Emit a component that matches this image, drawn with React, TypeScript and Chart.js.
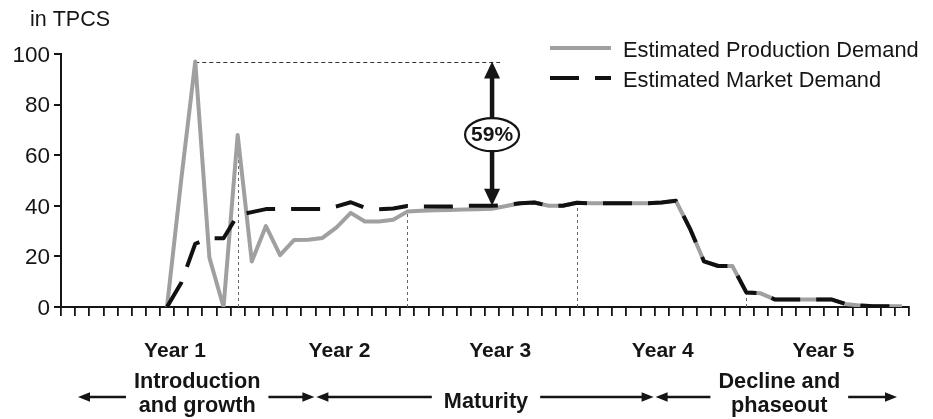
import React, { useEffect, useRef } from 'react';
import { Chart, registerables } from 'chart.js';

Chart.register(...registerables);

// ---------- data ----------
const months: string[] = Array.from({ length: 60 }, (_, i) => String(i + 1));

const productionDemand: (number | null)[] = [
  null, null, null, null, null, null, null,
  0, 50, 97, 19.5, 0, 68, 18, 32, 20.5, 26.5, 26.6, 27.3, 31.5, 37.2,
  33.8, 33.8, 34.5, 37.7, 38, 38.2, 38.3, 38.5, 38.6, 38.8,
  39.9, 41, 41.3, 40, 40, 41.2, 41, 41, 41, 41, 41, 41.3, 42,
  31, 18, 16.2, 16.2, 5.7, 5.4, 3, 3, 3, 3, 3, 1.2, 0.6, 0.3, 0.3, 0.3,
];

const marketDemand: (number | null)[] = [
  null, null, null, null, null, null, null,
  0, 9.5, 25, 27.2, 27.2, 36.3, 37.5, 38.7, 38.7, 38.7, 38.7, 38.7, 39.8, 41.4,
  39.2, 38.6, 38.9, 39.9, 39.7, 39.7, 39.7, 40, 40, 40,
  40.3, 41, 41.3, 40, 40, 41.2, 41, 41, 41, 41, 41, 41.3, 42,
  31, 18, 16.2, 16.2, 5.7, 5.4, 3, 3, 3, 3, 3, 1.2, 0.6, 0.3, 0.3, 0.3,
];

const seriesLabels = ['Estimated Production Demand', 'Estimated Market Demand'];
const yTickValues = [0, 20, 40, 60, 80, 100];
const yUnitLabel = 'in TPCS';
const yearLabels = ['Year 1', 'Year 2', 'Year 3', 'Year 4', 'Year 5'];
const yearLabelMonths = [8.07, 19.71, 31.07, 42.58, 53.95];
const yearMarkerIndex = [12, 24, 36, 48];
const phaseLabels = [['Introduction', 'and growth'], ['Maturity'], ['Decline and', 'phaseout']];
const phaseBoundMonths = [0, 18, 42, 60];
const gapIndex = 30;

// ---------- styling ----------
const FONT = '"Liberation Sans", Arial, Helvetica, sans-serif';
const INK = '#151515';
const GREY = '#a0a0a0';

function arrowHead(ctx: CanvasRenderingContext2D, tx: number, ty: number, dx: number, dy: number, len: number, half: number) {
  const bx = tx - dx * len;
  const by = ty - dy * len;
  const nx = -dy;
  const ny = dx;
  ctx.beginPath();
  ctx.moveTo(tx, ty);
  ctx.lineTo(bx + nx * half, by + ny * half);
  ctx.lineTo(bx - nx * half, by - ny * half);
  ctx.closePath();
  ctx.fill();
}

const annotationPlugin = {
  id: 'tpcsAnnotations',
  beforeDatasetsDraw(chart: any) {
    const { ctx, scales } = chart;
    const x = scales.x;
    const y = scales.y;
    const prod = chart.data.datasets[0].data as (number | null)[];
    ctx.save();
    ctx.strokeStyle = '#666';
    ctx.lineWidth = 1;
    ctx.setLineDash([3, 3]);
    for (const m of yearMarkerIndex) {
      const px = Math.round(x.getPixelForValue(m)) + 0.5;
      ctx.beginPath();
      ctx.moveTo(px, y.getPixelForValue(0));
      ctx.lineTo(px, y.getPixelForValue(prod[m] ?? 0));
      ctx.stroke();
    }
    const vals = prod.filter((v) => v != null) as number[];
    const peak = Math.max(...vals);
    const peakIdx = prod.indexOf(peak);
    const py = Math.round(y.getPixelForValue(peak)) + 0.5;
    ctx.strokeStyle = '#333';
    ctx.setLineDash([4, 3]);
    ctx.beginPath();
    ctx.moveTo(x.getPixelForValue(peakIdx), py);
    ctx.lineTo(x.getPixelForValue(gapIndex) + 8, py);
    ctx.stroke();
    ctx.restore();
  },
  afterDatasetsDraw(chart: any) {
    const { ctx, scales } = chart;
    const x = scales.x;
    const y = scales.y;
    const ds = chart.data.datasets;
    const prod = ds[0].data as (number | null)[];
    const market = ds[1].data as (number | null)[];
    ctx.save();
    ctx.setLineDash([]);

    // --- double arrow with percentage ---
    const vals = prod.filter((v) => v != null) as number[];
    const peak = Math.max(...vals);
    const low = market[gapIndex] as number;
    const ax = x.getPixelForValue(gapIndex);
    const yTop = y.getPixelForValue(peak);
    const yBot = y.getPixelForValue(low);
    const cy = (yTop + yBot) / 2 + 1;
    const rx = 27;
    const ry = 16.5;
    const headLen = 17;
    const headHalf = 8;
    ctx.fillStyle = INK;
    ctx.strokeStyle = INK;
    ctx.lineWidth = 4.5;
    ctx.beginPath();
    ctx.moveTo(ax, yTop + headLen - 1);
    ctx.lineTo(ax, cy - ry);
    ctx.moveTo(ax, cy + ry);
    ctx.lineTo(ax, yBot - headLen + 1);
    ctx.stroke();
    arrowHead(ctx, ax, yTop, 0, -1, headLen, headHalf);
    arrowHead(ctx, ax, yBot, 0, 1, headLen, headHalf);
    ctx.lineWidth = 2.2;
    ctx.beginPath();
    ctx.ellipse(ax, cy, rx, ry, 0, 0, Math.PI * 2);
    ctx.fillStyle = '#fff';
    ctx.fill();
    ctx.stroke();
    ctx.fillStyle = INK;
    ctx.font = `bold 21px ${FONT}`;
    ctx.textAlign = 'center';
    ctx.textBaseline = 'middle';
    const pct = Math.round(((peak - low) / peak) * 100);
    ctx.fillText(`${pct}%`, ax, cy + 1);

    // --- unit label ---
    ctx.font = `21.5px ${FONT}`;
    ctx.textAlign = 'left';
    ctx.textBaseline = 'alphabetic';
    ctx.fillText(yUnitLabel, 30, 26);

    // --- legend ---
    const lx0 = 550;
    const lx1 = 611;
    const rows = [48, 78];
    ds.forEach((d: any, i: number) => {
      ctx.strokeStyle = d.borderColor;
      ctx.lineWidth = d.borderWidth;
      ctx.setLineDash(d.borderDash || []);
      ctx.lineCap = 'butt';
      ctx.beginPath();
      ctx.moveTo(lx0, rows[i]);
      ctx.lineTo(lx1, rows[i]);
      ctx.stroke();
      ctx.setLineDash([]);
      ctx.fillStyle = INK;
      ctx.font = `21.8px ${FONT}`;
      ctx.textAlign = 'left';
      ctx.textBaseline = 'alphabetic';
      ctx.fillText(d.label, 623, rows[i] + 8.5);
    });

    // --- year labels ---
    ctx.font = `bold 21px ${FONT}`;
    ctx.textAlign = 'center';
    ctx.fillStyle = INK;
    yearLabels.forEach((lab, i) => {
      ctx.fillText(lab, x.getPixelForValue(yearLabelMonths[i] - 0.5), 356.5);
    });

    // --- phases ---
    const arrowY = 397;
    ctx.font = `bold 21.7px ${FONT}`;
    ctx.strokeStyle = INK;
    ctx.lineWidth = 2.5;
    phaseLabels.forEach((lines, i) => {
      const first = i === 0;
      const last = i === phaseLabels.length - 1;
      const s = x.getPixelForValue(phaseBoundMonths[i] - 0.5) + (first ? 17 : 1);
      const e = x.getPixelForValue(phaseBoundMonths[i + 1] - 0.5) - (last ? 12 : 1);
      const c = (s + e) / 2 + (last ? 3 : 1);
      const w = Math.max(...lines.map((l) => ctx.measureText(l).width));
      const gap = lines.length === 2 ? 8 : 12;
      const tl = c - w / 2 - gap;
      const tr = c + w / 2 + gap;
      ctx.beginPath();
      ctx.moveTo(tl, arrowY);
      ctx.lineTo(s + 8, arrowY);
      ctx.moveTo(tr, arrowY);
      ctx.lineTo(e - 8, arrowY);
      ctx.stroke();
      arrowHead(ctx, s, arrowY, -1, 0, 12, 4.8);
      arrowHead(ctx, e, arrowY, 1, 0, 12, 4.8);
      if (lines.length === 2) {
        ctx.fillText(lines[0], c, 388.3);
        ctx.fillText(lines[1], c, 411.7);
      } else {
        ctx.fillText(lines[0], c, 408);
      }
    });
    ctx.restore();
  },
};

export default function App() {
  const canvasRef = useRef<HTMLCanvasElement | null>(null);

  useEffect(() => {
    const canvas = canvasRef.current;
    if (!canvas) return;
    Chart.defaults.font.family = FONT;
    const chart = new Chart(canvas, {
      type: 'line',
      data: {
        labels: months,
        datasets: [
          {
            label: seriesLabels[0],
            data: productionDemand,
            borderColor: GREY,
            borderWidth: 4,
            pointRadius: 0,
            tension: 0,
            fill: false,
            order: 2,
            borderJoinStyle: 'round',
          },
          {
            label: seriesLabels[1],
            data: marketDemand,
            borderColor: '#111',
            borderWidth: 4,
            borderDash: [29, 16],
            pointRadius: 0,
            tension: 0,
            fill: false,
            order: 1,
            borderJoinStyle: 'round',
          },
        ],
      },
      options: {
        responsive: false,
        animation: false,
        events: [],
        layout: { padding: { left: 0, right: 24, top: 54, bottom: 0 } },
        plugins: {
          legend: { display: false },
          tooltip: { enabled: false },
          title: { display: false },
        },
        scales: {
          x: {
            type: 'category',
            offset: true,
            grid: {
              offset: true,
              drawOnChartArea: false,
              drawTicks: true,
              tickLength: 9,
              color: INK,
              lineWidth: 1.8,
            },
            border: { display: true, color: INK, width: 2 },
            ticks: { display: false, autoSkip: false },
            afterFit: (s: any) => {
              s.height = 112;
            },
          },
          y: {
            min: 0,
            max: 100,
            afterBuildTicks: (s: any) => {
              s.ticks = yTickValues.map((v) => ({ value: v }));
            },
            grid: {
              drawOnChartArea: false,
              drawTicks: true,
              tickLength: 7,
              color: INK,
              lineWidth: 2,
            },
            border: { display: true, color: INK, width: 2 },
            ticks: {
              padding: 4,
              labelOffset: 1.5,
              color: INK,
              font: { size: 22.5, family: FONT },
            },
            afterFit: (s: any) => {
              s.width = 61;
            },
          },
        },
      },
      plugins: [annotationPlugin],
    } as any);
    return () => chart.destroy();
  }, []);

  return (
    <div style={{ position: 'fixed', left: 0, top: 0, width: 933, height: 419, background: '#fff' }}>
      <canvas ref={canvasRef} width={933} height={419} style={{ display: 'block' }} />
    </div>
  );
}
